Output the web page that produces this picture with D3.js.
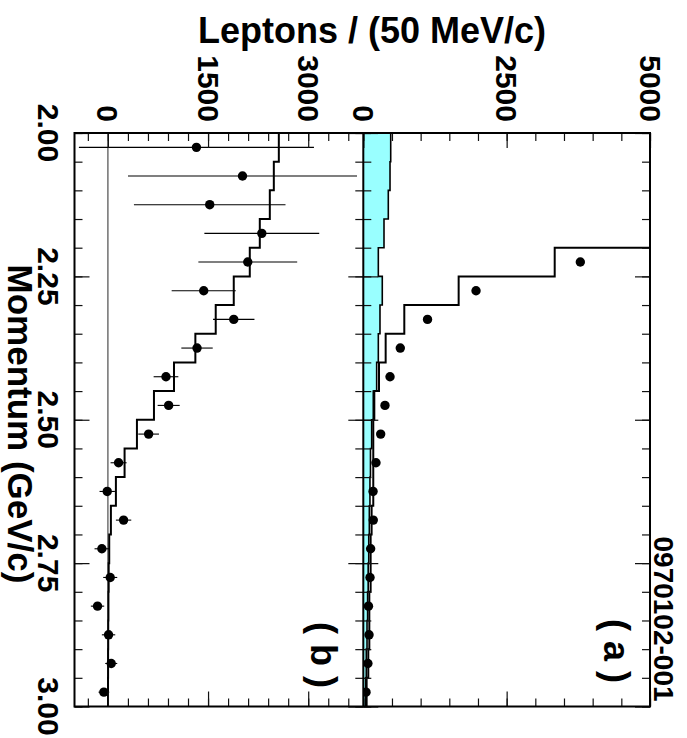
<!DOCTYPE html>
<html>
<head>
<meta charset="utf-8">
<script src="https://cdn.jsdelivr.net/npm/d3@7/dist/d3.min.js"></script>
<style>
  body { margin: 0; background: #fff; }
  text { font-family: "Liberation Sans", Arial, Helvetica, sans-serif; font-weight: bold; fill: #000; }
</style>
</head>
<body>
<svg id="chart"></svg>
<script>
// momentum bins (GeV/c), 50 MeV wide
const binLow = [2.00, 2.05, 2.10, 2.15, 2.20, 2.25, 2.30, 2.35, 2.40, 2.45,
                2.50, 2.55, 2.60, 2.65, 2.70, 2.75, 2.80, 2.85, 2.90, 2.95];
const binWidth = 0.05;

// panel (a): data points, fitted histogram, cyan background
const dataA = [null, null, null, null, 3785, 1966, 1120, 645, 466, 378,
               303, 221, 170, 174, 128, 117, 90, 100, 80, 47];
const histA = [9000, 8000, 7000, 6000, 3338, 1663, 715, 390, 274, 192,
               174, 174, 174, 145, 128, 128, 105, 105, 87, 58];
const bkgA  = [478, 466, 436, 361, 262, 331, 291, 262, 233, 174,
               146, 125, 116, 105, 95, 85, 75, 65, 52, 41];

// panel (b): data points with errors, histogram
const dataB = [1326, 2016, 1525, 2305, 2095, 1435, 1885, 1335, 870, 910,
               610, 160, -10, 235, -90, 35, -155, 10, 50, -60];
const errB  = [1760, 1715, 1135, 860, 740, 480, 310, 235, 185, 165,
               155, 120, 115, 115, 110, 105, 100, 100, 90, 80];
const histB = [2560, 2485, 2425, 2275, 2125, 1885, 1615, 1310, 990, 690,
               435, 250, 120, 45, 20, 12, 8, 5, 3, 2];

const labelsA = ["0", "2500", "5000"];
const labelsB = ["0", "1500", "3000"];
const momLabels = ["2.00", "2.25", "2.50", "2.75", "3.00"];

const width = 687, height = 738;
const frame = {left: 74.5, mid: 363.3, right: 650, top: 133, bottom: 706.5};

const svg = d3.select("#chart")
  .attr("width", width)
  .attr("height", height);

const yScale = d3.scaleLinear().domain([2, 3]).range([frame.top, frame.bottom]);
const xA = d3.scaleLinear().domain([0, 5000]).range([frame.mid, frame.right]);
const xB = d3.scaleLinear().domain([-500, 3825]).range([frame.left, frame.mid]);

svg.append("defs").append("clipPath").attr("id", "clipA")
  .append("rect")
  .attr("x", frame.mid).attr("y", frame.top)
  .attr("width", frame.right - frame.mid).attr("height", frame.bottom - frame.top);

// step points: one per bin edge
const stepPts = vals => vals.map((v, i) => ({p: binLow[i], v}))
  .concat([{p: binLow[binLow.length - 1] + binWidth, v: vals[vals.length - 1]}]);

// ---- panel (a) ----
const gA = svg.append("g").attr("clip-path", "url(#clipA)");

const bkgArea = d3.area()
  .curve(d3.curveStepBefore)
  .y(d => yScale(d.p))
  .x0(xA(0))
  .x1(d => xA(d.v));
const stepLineA = d3.line()
  .curve(d3.curveStepBefore)
  .y(d => yScale(d.p))
  .x(d => xA(d.v));

gA.append("path")
  .attr("d", bkgArea(stepPts(bkgA)))
  .attr("fill", "#99ffff");
gA.append("path")
  .attr("d", stepLineA(stepPts(bkgA)))
  .attr("fill", "none").attr("stroke", "#000").attr("stroke-width", 1.6);
gA.append("path")
  .attr("d", stepLineA(stepPts(histA)))
  .attr("fill", "none").attr("stroke", "#000").attr("stroke-width", 2);

gA.append("g")
  .selectAll("circle")
  .data(dataA.map((v, i) => ({p: binLow[i] + binWidth / 2, v})).filter(d => d.v !== null))
  .join("circle")
    .attr("cx", d => xA(d.v))
    .attr("cy", d => yScale(d.p))
    .attr("r", 4.7)
    .attr("fill", "#000");

// ---- panel (b) ----
const gB = svg.append("g");

gB.append("line")
  .attr("x1", xB(0)).attr("x2", xB(0))
  .attr("y1", frame.top).attr("y2", frame.bottom)
  .attr("stroke", "#707070").attr("stroke-width", 1.5);

const stepLineB = d3.line()
  .curve(d3.curveStepBefore)
  .y(d => yScale(d.p))
  .x(d => xB(d.v));
gB.append("path")
  .attr("d", stepLineB(stepPts(histB)))
  .attr("fill", "none").attr("stroke", "#000").attr("stroke-width", 2);

const ptsB = dataB.map((v, i) => ({p: binLow[i] + binWidth / 2, v, e: errB[i]}));
gB.append("g")
  .selectAll("line")
  .data(ptsB)
  .join("line")
    .attr("x1", d => Math.max(frame.left, xB(d.v - d.e)))
    .attr("x2", d => Math.min(frame.mid, xB(d.v + d.e)))
    .attr("y1", d => yScale(d.p))
    .attr("y2", d => yScale(d.p))
    .attr("stroke", "#000").attr("stroke-width", 1.1);
gB.append("g")
  .selectAll("circle")
  .data(ptsB)
  .join("circle")
    .attr("cx", d => xB(d.v))
    .attr("cy", d => yScale(d.p))
    .attr("r", 4.7)
    .attr("fill", "#000");

// ---- ticks ----
const minorP = d3.range(2, 3.001, 0.05), majorP = [2, 2.25, 2.5, 2.75, 3];
const minorA = d3.range(0, 5001, 500), majorA = [0, 2500, 5000];
const minorB = d3.range(-300, 3801, 300), majorB = [0, 1500, 3000];

const addTicks = (axis, values, size, transform) => {
  const g = svg.append("g")
    .attr("transform", transform)
    .call(axis.tickValues(values).tickSize(size).tickFormat(""));
  g.selectAll(".domain").remove();
  g.selectAll(".tick line").attr("stroke", "#111").attr("stroke-width", 1.2);
};

addTicks(d3.axisTop(xA), minorA, -8, `translate(0,${frame.top})`);
addTicks(d3.axisTop(xA), majorA, -15, `translate(0,${frame.top})`);
addTicks(d3.axisTop(xB), minorB, -8, `translate(0,${frame.top})`);
addTicks(d3.axisTop(xB), majorB, -15, `translate(0,${frame.top})`);
addTicks(d3.axisBottom(xA), minorA, -8, `translate(0,${frame.bottom})`);
addTicks(d3.axisBottom(xA), majorA, -15, `translate(0,${frame.bottom})`);
addTicks(d3.axisBottom(xB), minorB, -8, `translate(0,${frame.bottom})`);
addTicks(d3.axisBottom(xB), majorB, -15, `translate(0,${frame.bottom})`);

addTicks(d3.axisLeft(yScale), minorP, -8, `translate(${frame.left},0)`);
addTicks(d3.axisLeft(yScale), majorP, -15, `translate(${frame.left},0)`);
addTicks(d3.axisRight(yScale), minorP, -8, `translate(${frame.right},0)`);
addTicks(d3.axisRight(yScale), majorP, -15, `translate(${frame.right},0)`);
addTicks(d3.axisLeft(yScale), minorP, 8, `translate(${frame.mid},0)`);
addTicks(d3.axisLeft(yScale), majorP, 15, `translate(${frame.mid},0)`);
addTicks(d3.axisRight(yScale), minorP, 8, `translate(${frame.mid},0)`);
addTicks(d3.axisRight(yScale), majorP, 15, `translate(${frame.mid},0)`);

// ---- frame ----
svg.append("rect")
  .attr("x", frame.left).attr("y", frame.top)
  .attr("width", frame.right - frame.left).attr("height", frame.bottom - frame.top)
  .attr("fill", "none").attr("stroke", "#000").attr("stroke-width", 2);
svg.append("line")
  .attr("x1", frame.mid).attr("x2", frame.mid)
  .attr("y1", frame.top).attr("y2", frame.bottom)
  .attr("stroke", "#000").attr("stroke-width", 2);

// ---- labels (rotated 90deg clockwise) ----
const rotLabel = (x, y, txt, size, anchor, dy) => svg.append("text")
  .attr("transform", `translate(${x},${y}) rotate(90)`)
  .attr("text-anchor", anchor)
  .attr("dy", dy)
  .style("font-size", size + "px")
  .text(txt);

majorA.forEach((v, i) => rotLabel(xA(v), frame.top - 11, labelsA[i], 30, "end", "0.35em"));
majorB.forEach((v, i) => rotLabel(xB(v), frame.top - 11, labelsB[i], 30, "end", "0.35em"));
majorP.forEach((p, i) => rotLabel(48.5, yScale(p), momLabels[i], 30, "middle", "0.35em"));

rotLabel(8, 424, "Momentum (GeV/c)", 35, "middle", 0);
rotLabel(604, 651, "( a )", 36, "middle", 0);
rotLabel(310.5, 655, "( b )", 36, "middle", 0);
rotLabel(663.5, 619, "0970102-001", 28, "middle", "0.35em");

svg.append("text")
  .attr("x", 372).attr("y", 43)
  .attr("text-anchor", "middle")
  .style("font-size", "36px")
  .text("Leptons / (50 MeV/c)");
</script>
</body>
</html>
